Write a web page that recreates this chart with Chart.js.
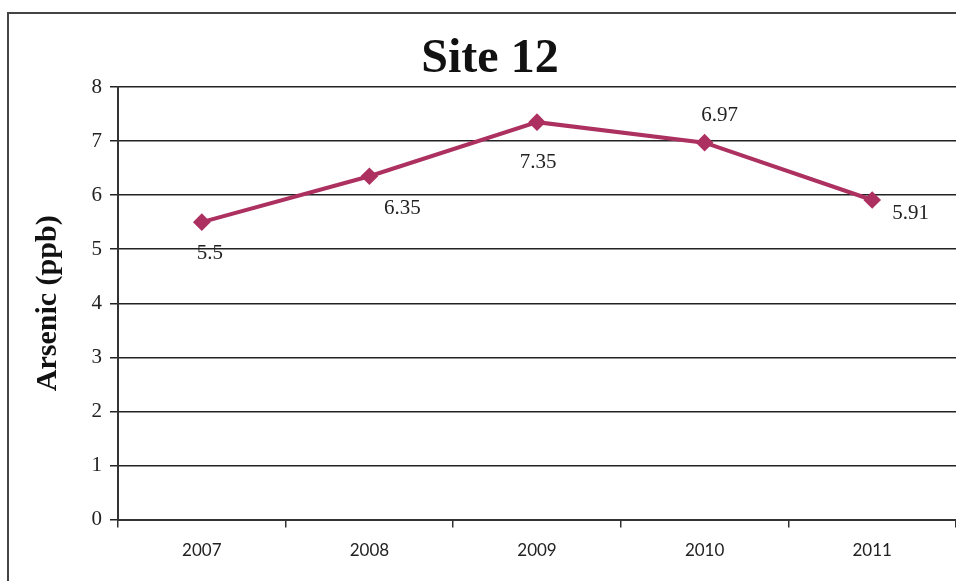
<!DOCTYPE html>
<html>
<head>
<meta charset="utf-8">
<script src="https://cdn.jsdelivr.net/npm/chart.js@4.4.1/dist/chart.umd.min.js"></script>
<style>
  html, body { margin: 0; padding: 0; background: #fff; }
  #wrap { position: relative; width: 956px; height: 581px; overflow: hidden; }
  #frame { position: absolute; left: 7px; top: 12px; width: 1000px; height: 640px; border: 2px solid #444; box-sizing: border-box; }
  canvas { position: absolute; left: 0; top: 0; }
</style>
</head>
<body>
<div id="wrap">
  <div id="frame"></div>
  <canvas id="chart" width="956" height="581"></canvas>
</div>
<script>
// ---------- Data ----------
const years = ['2007', '2008', '2009', '2010', '2011'];
const arsenic = [5.5, 6.35, 7.35, 6.97, 5.91];
const yTicks = [0, 1, 2, 3, 4, 5, 6, 7, 8];
const chartTitle = 'Site 12';

// label offsets from each point (px), style only
const labelOffsets = [
  { dx: 8, dy: 31, align: 'center' },
  { dx: 33, dy: 32, align: 'center' },
  { dx: 1, dy: 40, align: 'center' },
  { dx: 15, dy: -27, align: 'center' },
  { dx: 20, dy: 13, align: 'left' }
];

const lineColor = '#ad3160';
const serif = '"Liberation Serif", "DejaVu Serif", serif';
const sans = 'Lato, "Open Sans", sans-serif';

// ---------- Title + value labels ----------
const valueLabels = {
  id: 'valueLabels',
  afterDatasetsDraw(chart){
    const ctx = chart.ctx;
    const meta = chart.getDatasetMeta(0);
    ctx.save();
    ctx.font = '21px ' + serif;
    ctx.fillStyle = '#222';
    ctx.textBaseline = 'middle';
    meta.data.forEach((pt, i) => {
      const o = labelOffsets[i];
      ctx.textAlign = o.align;
      ctx.fillText(String(arsenic[i]), pt.x + o.dx, pt.y + o.dy);
    });
    // title
    ctx.font = 'bold 48px ' + serif;
    ctx.fillStyle = '#111';
    ctx.textAlign = 'center';
    ctx.textBaseline = 'alphabetic';
    ctx.fillText(chartTitle, 490, 72);
    ctx.restore();
  }
};

// ---------- Chart ----------
const ctx = document.getElementById('chart').getContext('2d');
new Chart(ctx, {
  type: 'line',
  data: {
    labels: years,
    datasets: [{
      data: arsenic,
      borderColor: lineColor,
      backgroundColor: lineColor,
      borderWidth: 4,
      pointStyle: 'rectRot',
      pointRadius: 6,
      pointHoverRadius: 6,
      tension: 0
    }]
  },
  options: {
    responsive: false,
    animation: false,
    layout: { autoPadding: false, padding: { left: 0, right: 0, top: 87, bottom: 7 } },
    plugins: {
      legend: { display: false },
      tooltip: { enabled: false },
      title: { display: false }
    },
    scales: {
      x: {
        offset: true,
        grid: { offset: true, drawOnChartArea: false, drawTicks: true, tickLength: 8, color: '#333', lineWidth: 1.5 },
        border: { display: true, color: '#333', width: 2 },
        ticks: { color: '#222', font: { family: sans, size: 17 }, padding: 13 }
      },
      y: {
        min: 0,
        max: 8,
        afterFit(scale){ scale.width = 118; },
        afterBuildTicks(scale){ scale.ticks = yTicks.map(v => ({ value: v })); },
        grid: { color: '#222', lineWidth: 1.5, tickLength: 8 },
        border: { display: true, color: '#333', width: 2 },
        ticks: { color: '#222', font: { family: serif, size: 21 }, padding: 8 },
        title: {
          display: true,
          text: 'Arsenic (ppb)',
          color: '#111',
          font: { family: serif, size: 30, weight: 'bold' },
          padding: { top: 30, bottom: 0 }
        }
      }
    }
  },
  plugins: [valueLabels]
});
</script>
</body>
</html>
